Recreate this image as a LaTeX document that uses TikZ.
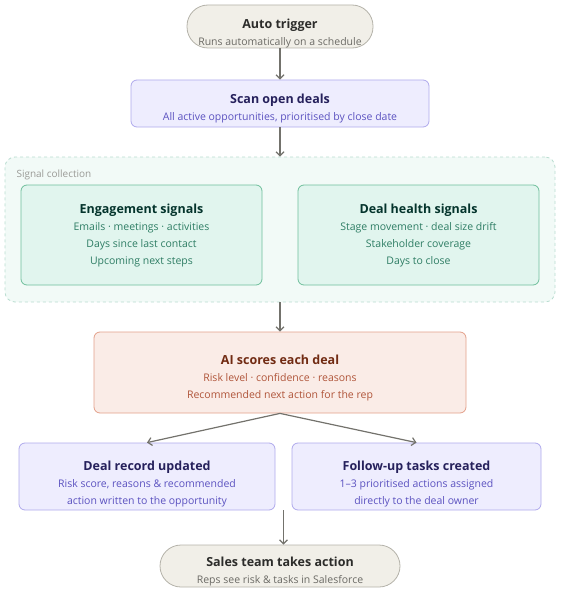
\documentclass[tikz,border=0pt]{standalone}
\usepackage{fontspec}
\setmainfont{Open Sans}
\usetikzlibrary{arrows.meta,calc}

\definecolor{pillfill}{HTML}{F1EFE8}
\definecolor{pillline}{HTML}{B4B2A9}
\definecolor{pilltitle}{HTML}{2C2C2A}
\definecolor{pilltext}{HTML}{6B6A65}
\definecolor{purfill}{HTML}{EEEDFE}
\definecolor{purline}{HTML}{AFA9EC}
\definecolor{purtitle}{HTML}{26215C}
\definecolor{purtext}{HTML}{5B52C0}
\definecolor{grpfill}{HTML}{F2FAF7}
\definecolor{grpline}{HTML}{B9DDD0}
\definecolor{grptext}{HTML}{9A9A96}
\definecolor{tealfill}{HTML}{E1F5EE}
\definecolor{tealline}{HTML}{6FBF9C}
\definecolor{tealtitle}{HTML}{04342C}
\definecolor{tealtext}{HTML}{2E7D64}
\definecolor{corfill}{HTML}{FAECE7}
\definecolor{corline}{HTML}{E3A08A}
\definecolor{cortitle}{HTML}{712B13}
\definecolor{cortext}{HTML}{B0553A}
\definecolor{flowline}{HTML}{73726C}

\newcommand\subfont{\fontsize{10.5}{17}\selectfont}
\newcommand\ttlfont{\fontsize{12.5}{17}\selectfont\bfseries}
% lines of a box, set lower by #1 without changing the box size
\newcommand\boxlines[2]{\raisebox{-#1}[\height][\depth]{\begin{tabular}{@{}c@{}}#2\end{tabular}}}

\tikzset{
  pill/.style={draw=pillline, fill=pillfill, text=pilltext, line width=0.8pt,
    rounded corners=21pt, align=center, font=\subfont},
  stepbox/.style={draw=purline, fill=purfill, text=purtext, line width=0.8pt,
    rounded corners=6pt, align=center, font=\subfont},
  group/.style={draw=grpline, fill=grpfill, dashed, line width=0.8pt,
    rounded corners=10pt},
  signal/.style={draw=tealline, fill=tealfill, text=tealtext, line width=0.8pt,
    rounded corners=6pt, align=center, font=\subfont},
  scorebox/.style={draw=corline, fill=corfill, text=cortext, line width=0.8pt,
    rounded corners=6pt, align=center, font=\subfont},
  flow/.style={draw=flowline, line width=1.2pt, -{Straight Barb[length=4pt,width=8pt]}}
}

\begin{document}
\begin{tikzpicture}[x=1pt, y=-1pt]
\useasboundingbox (0,0) rectangle (563,591);

\node[pill, minimum width=186pt, minimum height=43pt] (trig) at (280,26.5)
  {\boxlines{7pt}{\textcolor{pilltitle}{\ttlfont Auto trigger}\\Runs automatically on a schedule}};
\node[stepbox, minimum width=298pt, minimum height=47pt] (scan) at (280,103.5)
  {\boxlines{5pt}{\textcolor{purtitle}{\ttlfont Scan open deals}\\All active opportunities, prioritised by close date}};

% signal collection group
\node[group, minimum width=550pt, minimum height=145pt] (sig) at (280,229.5) {};
\node[text=grptext, font=\fontsize{10}{12}\selectfont, anchor=west] (siglbl) at (13,175) {Signal collection};
\node[signal, minimum width=241pt, minimum height=100pt] (eng) at (141.5,235)
  {\boxlines{1pt}{\textcolor{tealtitle}{\ttlfont Engagement signals}\\Emails · meetings · activities\\Days since last contact\\Upcoming next steps}};
\node[signal, minimum width=241pt, minimum height=100pt] (health) at (418.5,235)
  {\boxlines{1pt}{\textcolor{tealtitle}{\ttlfont Deal health signals}\\Stage movement · deal size drift\\Stakeholder coverage\\Days to close}};

\node[scorebox, minimum width=372pt, minimum height=81pt] (ai) at (280,372.5)
  {\boxlines{5.5pt}{\textcolor{cortitle}{\ttlfont AI scores each deal}\\Risk level · confidence · reasons\\Recommended next action for the rep}};

\node[stepbox, minimum width=256pt, minimum height=67pt] (rec) at (147,476.5)
  {\boxlines{8pt}{\textcolor{purtitle}{\ttlfont Deal record updated}\\Risk score, reasons \& recommended\\action written to the opportunity}};
\node[stepbox, minimum width=249pt, minimum height=67pt] (tasks) at (416.5,476.5)
  {\boxlines{8pt}{\textcolor{purtitle}{\ttlfont Follow-up tasks created}\\1–3 prioritised actions assigned\\directly to the deal owner}};

\node[pill, minimum width=240pt, minimum height=42pt] (sales) at (280,566)
  {\boxlines{5.5pt}{\textcolor{pilltitle}{\ttlfont Sales team takes action}\\Reps see risk \& tasks in Salesforce}};

\coordinate (merge) at ($(rec.south east)!0.5!(tasks.south west)$);

\draw[flow] (trig) -- (scan);
\draw[flow] (scan) -- (sig);
\draw[flow] (sig) -- (ai);
\draw[flow] (ai.south) -- (rec.north);
\draw[flow] (ai.south) -- (tasks.north);
\draw[flow] (merge) -- (merge |- sales.north);
\end{tikzpicture}
\end{document}
